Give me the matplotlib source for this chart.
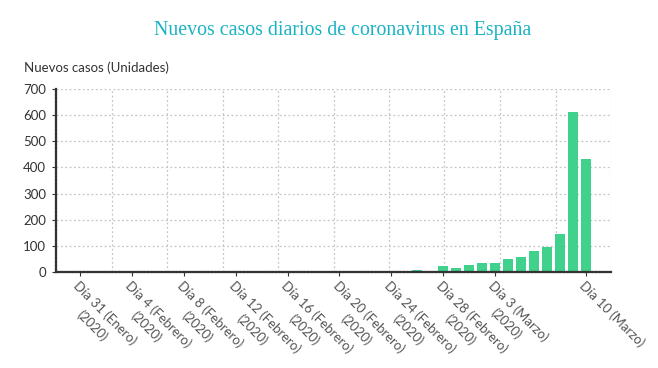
import matplotlib
matplotlib.use("Agg")
import matplotlib.pyplot as plt
import numpy as np

# Daily new cases, 31 Jan 2020 .. 10 Mar 2020 (40 days)
dates = (["31 Ene"] + [f"{d} Feb" for d in range(1, 30)] + [f"{d} Mar" for d in range(1, 11)])
values = [1, 0, 0, 0, 0, 0, 0, 0, 0, 1,
          0, 0, 0, 0, 0, 0, 0, 0, 0, 0,
          0, 0, 0, 0, 0, 2, 6, 2, 24, 14,
          27, 34, 35, 48, 59, 82, 95, 146, 613, 433]
tick_idx = [0, 4, 8, 12, 16, 20, 24, 28, 32, 39]
tick_labels = ["Día 31 (Enero)\n(2020)", "Día 4 (Febrero)\n(2020)", "Día 8 (Febrero)\n(2020)",
               "Día 12 (Febrero)\n(2020)", "Día 16 (Febrero)\n(2020)", "Día 20 (Febrero)\n(2020)",
               "Día 24 (Febrero)\n(2020)", "Día 28 (Febrero)\n(2020)", "Día 3 (Marzo)\n(2020)",
               "Día 10 (Marzo)"]
y_ticks = [0, 100, 200, 300, 400, 500, 600, 700]

title = "Nuevos casos diarios de coronavirus en España"
ylabel = "Nuevos casos (Unidades)"

fig = plt.figure(figsize=(6.58, 3.68), dpi=100)
ax = fig.add_axes([56/658, 1-272/368, (611-56)/658, (272-89)/368])

x = np.arange(len(values))
ax.bar(x, values, width=0.8, color="#40d18c", zorder=3)

ax.set_xlim(-1.85, 40.94)
ax.set_ylim(0, 700)
ax.set_yticks(y_ticks)
ax.set_yticklabels([str(v) for v in y_ticks], fontsize=9.5, color="#333333", family="Lato")

ax.set_xticks(tick_idx)
ax.set_xticklabels(tick_labels, rotation=-45, ha="left", va="top", rotation_mode="anchor",
                   fontsize=9.5, color="#555555", family="Lato", multialignment="center",
                   linespacing=1.5)
ax.tick_params(axis="x", length=3, color="#333333", pad=2)
ax.tick_params(axis="y", length=3, color="#333333", pad=4)

# grid
for v in y_ticks[1:]:
    ax.axhline(v, color="#c4c4c4", lw=0.9, ls=(0, (1.5, 2)), zorder=1)
for f in np.arange(1, 11) / 10:
    ax.axvline(-1.85 + f * (40.94 + 1.85), color="#c4c4c4", lw=0.9, ls=(0, (1.5, 2)), zorder=1)

for s in ["top", "right"]:
    ax.spines[s].set_visible(False)
for s in ["left", "bottom"]:
    ax.spines[s].set_color("#333333")
    ax.spines[s].set_linewidth(1.6)
    ax.spines[s].set_linestyle((0, (1, 0.6)))
    ax.spines[s].set_zorder(4)

fig.text(343/658, 1-30/368, title, ha="center", va="center", fontsize=14.3,
         family="Liberation Serif", color="#1ab3c5")
fig.text(24/658, 1-68/368, ylabel, ha="left", va="center", fontsize=9.5,
         family="Lato", color="#333333")

fig.savefig("out.png", dpi=100)
